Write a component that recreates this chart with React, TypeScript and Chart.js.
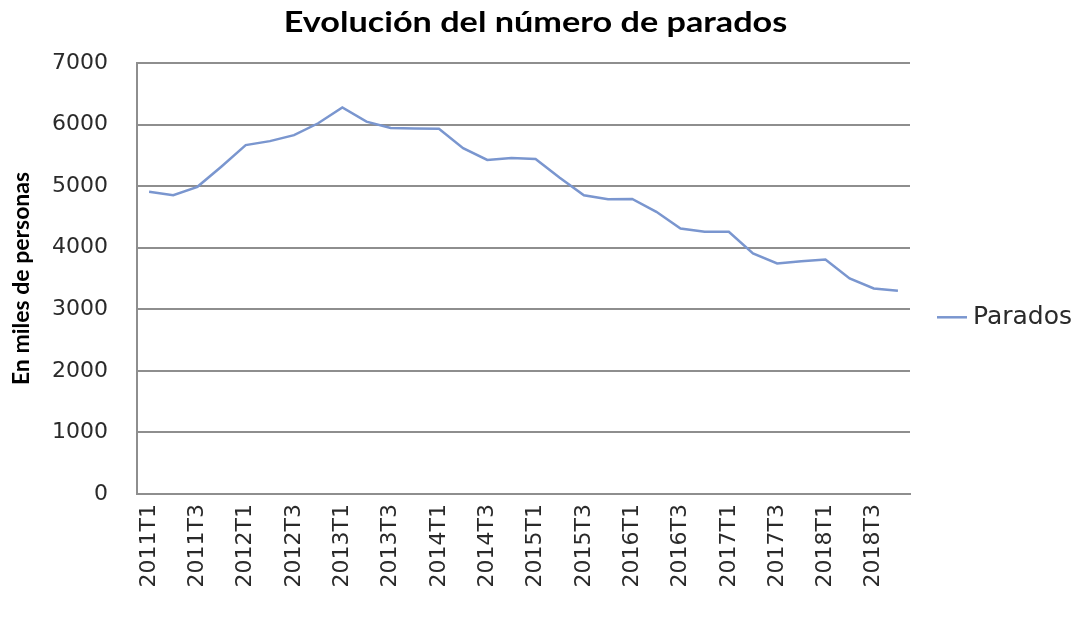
import React, { useEffect, useRef } from "react";
import { Chart, registerables } from "chart.js";

Chart.register(...registerables);

const TITLE = "Evolución del número de parados";
const Y_TITLE = "En miles de personas";
const SERIES_NAME = "Parados";

const categories = [
  "2011T1", "2011T2", "2011T3", "2011T4",
  "2012T1", "2012T2", "2012T3", "2012T4",
  "2013T1", "2013T2", "2013T3", "2013T4",
  "2014T1", "2014T2", "2014T3", "2014T4",
  "2015T1", "2015T2", "2015T3", "2015T4",
  "2016T1", "2016T2", "2016T3", "2016T4",
  "2017T1", "2017T2", "2017T3", "2017T4",
  "2018T1", "2018T2", "2018T3", "2018T4",
];

const parados = [
  4910, 4854, 4989, 5320,
  5666, 5731, 5828, 6021,
  6278, 6047, 5943, 5936,
  5933, 5617, 5425, 5458,
  5440, 5137, 4851, 4789,
  4792, 4583, 4313, 4258,
  4258, 3907, 3745, 3782,
  3810, 3501, 3339, 3300,
];

const yTickValues = [0, 1000, 2000, 3000, 4000, 5000, 6000, 7000];

const LINE_COLOR = "#7a96cf";
const GRID_COLOR = "#8e8e8e";
const TEXT_COLOR = "#2a2a2a";

export default function App() {
  const ref = useRef<HTMLCanvasElement | null>(null);

  useEffect(() => {
    if (!ref.current) return;
    const decor = {
      id: "decor",
      beforeDraw(chart: any) {
        const ctx = chart.ctx;
        ctx.save();
        ctx.fillStyle = "#ffffff";
        ctx.fillRect(0, 0, chart.width, chart.height);
        ctx.restore();
      },
      afterDraw(chart: any) {
        const ctx = chart.ctx;
        const area = chart.chartArea;
        ctx.save();
        // title (horizontally widened like the reference)
        ctx.fillStyle = "#000000";
        ctx.font = "bold 29px Lato";
        ctx.textAlign = "center";
        ctx.textBaseline = "middle";
        ctx.translate(chart.width * 0.494, 23);
        ctx.scale(1.18, 1);
        ctx.fillText(TITLE, 0, 0);
        ctx.restore();
        ctx.save();
        // legend
        const ly = area.top + (area.bottom - area.top) * 0.59;
        const lx = area.right + 27;
        ctx.strokeStyle = LINE_COLOR;
        ctx.lineWidth = 2.5;
        ctx.beginPath();
        ctx.moveTo(lx, ly);
        ctx.lineTo(lx + 30, ly);
        ctx.stroke();
        ctx.fillStyle = TEXT_COLOR;
        ctx.font = "25px 'DejaVu Sans'";
        ctx.textAlign = "left";
        ctx.textBaseline = "middle";
        ctx.fillText(SERIES_NAME, lx + 36, ly);
        ctx.restore();
      },
    };

    const chart = new Chart(ref.current, {
      type: "line",
      data: {
        labels: categories,
        datasets: [
          {
            label: SERIES_NAME,
            data: parados,
            borderColor: LINE_COLOR,
            backgroundColor: LINE_COLOR,
            borderWidth: 2.5,
            pointRadius: 0,
            tension: 0,
            fill: false,
          },
        ],
      },
      options: {
        animation: false,
        responsive: true,
        maintainAspectRatio: false,
        layout: { padding: { top: 63, right: 174, left: 0, bottom: 0 } },
        plugins: {
          legend: { display: false },
          title: { display: false },
          tooltip: { enabled: false },
        },
        scales: {
          x: {
            offset: true,
            grid: { display: false, drawTicks: false },
            border: { display: true, color: GRID_COLOR, width: 2 },
            ticks: {
              autoSkip: false,
              minRotation: 90,
              maxRotation: 90,
              padding: 10,
              color: TEXT_COLOR,
              font: { family: "'DejaVu Sans'", size: 22 },
              callback: (_v: any, i: number) => (i % 2 === 0 ? categories[i] : ""),
            },
            afterFit: (s: any) => {
              s.height = 128;
            },
          },
          y: {
            min: 0,
            max: 7000,
            afterBuildTicks: (s: any) => {
              s.ticks = yTickValues.map((v) => ({ value: v }));
            },
            grid: { color: GRID_COLOR, lineWidth: 2, drawTicks: false },
            border: { display: true, color: GRID_COLOR, width: 2 },
            ticks: {
              padding: 29,
              color: TEXT_COLOR,
              font: { family: "'DejaVu Sans'", size: 22 },
              callback: (v: any) => String(v),
            },
            title: {
              display: true,
              text: Y_TITLE,
              color: "#000000",
              font: { family: "Lato", size: 23, weight: "bold" },
              padding: { top: 8, bottom: 0 },
            },
            afterFit: (s: any) => {
              s.width = 137;
            },
          },
        },
      },
      plugins: [decor],
    });
    return () => chart.destroy();
  }, []);

  return (
    <div style={{ position: "fixed", left: 0, top: 0, width: 1084, height: 622, background: "#fff" }}>
      <canvas ref={ref} />
    </div>
  );
}
